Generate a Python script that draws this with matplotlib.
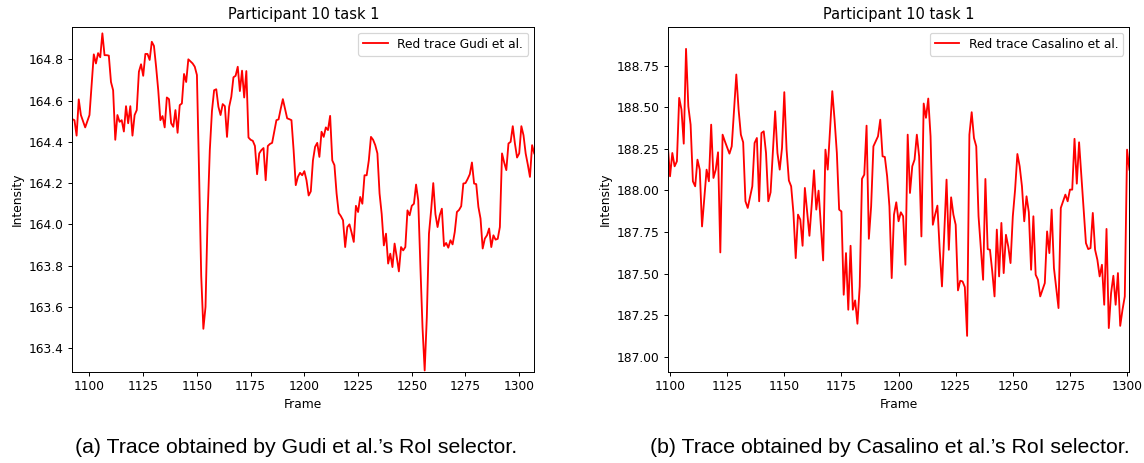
import matplotlib
matplotlib.use("Agg")
import matplotlib.pyplot as plt

# Red channel traces, participant 10, task 1
gudi_frames = list(range(1092, 1308))
gudi_red = [
    164.51, 164.505, 164.43, 164.606, 164.53, 164.50, 164.47, 164.50, 164.53, 164.675,
    164.824, 164.78, 164.83, 164.81, 164.926, 164.82, 164.82, 164.818, 164.69, 164.65,
    164.41, 164.53, 164.497, 164.505, 164.45, 164.573, 164.49, 164.573, 164.43, 164.53,
    164.554, 164.74, 164.776, 164.72, 164.826, 164.826, 164.797, 164.885, 164.865, 164.764,
    164.65, 164.505, 164.525, 164.47, 164.615, 164.607, 164.49, 164.473, 164.554, 164.444,
    164.578, 164.586, 164.729, 164.69, 164.80, 164.79, 164.78, 164.764, 164.724, 164.25,
    163.75, 163.494, 163.60, 164.05, 164.36, 164.55, 164.65, 164.655, 164.57, 164.53,
    164.583, 164.573, 164.424, 164.57, 164.618, 164.713, 164.72, 164.764, 164.646, 164.745,
    164.615, 164.743, 164.421, 164.41, 164.405, 164.38, 164.243, 164.344, 164.36, 164.37,
    164.214, 164.38, 164.39, 164.395, 164.45, 164.505, 164.509, 164.56, 164.607, 164.56,
    164.514, 164.51, 164.505, 164.36, 164.19, 164.23, 164.25, 164.238, 164.258, 164.214,
    164.14, 164.16, 164.31, 164.376, 164.395, 164.327, 164.449, 164.424, 164.47, 164.457,
    164.526, 164.31, 164.287, 164.15, 164.055, 164.04, 164.02, 163.89, 163.987, 164.0,
    163.96, 163.915, 164.09, 164.06, 164.133, 164.10, 164.238, 164.238, 164.31, 164.424,
    164.41, 164.384, 164.344, 164.15, 164.05, 163.898, 163.955, 163.81, 163.858, 163.793,
    163.907, 163.842, 163.772, 163.89, 163.874, 163.89, 164.068, 164.044, 164.09, 164.10,
    164.193, 164.117, 163.80, 163.50, 163.292, 163.55, 163.955, 164.068, 164.2, 164.05,
    163.987, 164.044, 164.076, 163.895, 163.91, 163.887, 163.923, 163.903, 163.963, 164.06,
    164.07, 164.088, 164.198, 164.2, 164.22, 164.243, 164.3, 164.198, 164.195, 164.085,
    164.028, 163.883, 163.931, 163.947, 163.98, 163.89, 163.947, 163.926, 163.93, 163.987,
    164.344, 164.30, 164.263, 164.392, 164.4, 164.476, 164.392, 164.324, 164.344, 164.476,
    164.432, 164.344, 164.29, 164.23, 164.384, 164.344,
]

casalino_frames = [
    1099, 1100, 1101, 1102, 1103, 1104, 1105, 1106, 1107, 1108, 1109, 1110, 1111, 1112,
    1113, 1114, 1116, 1117, 1118, 1119, 1120, 1121, 1122, 1123, 1124, 1126, 1127, 1129,
    1130, 1131, 1132, 1133, 1134, 1136, 1137, 1138, 1139, 1140, 1141, 1142, 1143, 1144,
    1146, 1147, 1148, 1149, 1150, 1151, 1152, 1153, 1154, 1155, 1156, 1157, 1158, 1159,
    1161, 1162, 1163, 1164, 1165, 1167, 1168, 1169, 1171, 1172, 1173, 1174, 1175, 1176,
    1177, 1178, 1179, 1180, 1181, 1182, 1183, 1184, 1185, 1186, 1187, 1188, 1189, 1190,
    1191, 1192, 1193, 1194, 1195, 1196, 1197, 1198, 1199, 1200, 1201, 1202, 1203, 1204,
    1205, 1206, 1207, 1208, 1209, 1210, 1211, 1212, 1213, 1214, 1215, 1216, 1217, 1218,
    1219, 1221, 1222, 1223, 1224, 1225, 1226, 1227, 1228, 1229, 1230, 1231, 1232, 1233,
    1234, 1235, 1237, 1238, 1239, 1240, 1241, 1242, 1243, 1244, 1245, 1246, 1247, 1248,
    1249, 1250, 1251, 1252, 1253, 1254, 1255, 1256, 1257, 1258, 1259, 1260, 1261, 1262,
    1264, 1265, 1266, 1267, 1268, 1270, 1271, 1273, 1274, 1275, 1276, 1277, 1278, 1279,
    1280, 1282, 1283, 1284, 1285, 1286, 1287, 1288, 1289, 1290, 1291, 1292, 1293, 1294,
    1295, 1296, 1297, 1298, 1299, 1300, 1301,
]
casalino_red = [
    188.275, 188.085, 188.225, 188.145, 188.175, 188.556, 188.486, 188.281, 188.850, 188.505,
    188.395, 188.055, 188.025, 188.185, 188.125, 187.784, 188.125, 188.055, 188.395, 188.075,
    188.125, 188.229, 187.628, 188.335, 188.295, 188.221, 188.265, 188.696, 188.486, 188.335,
    188.289, 187.935, 187.895, 188.025, 188.285, 188.315, 187.935, 188.345, 188.355, 188.225,
    187.935, 187.989, 188.475, 188.225, 188.125, 188.255, 188.590, 188.245, 188.060, 188.025,
    187.865, 187.594, 187.855, 187.825, 187.668, 188.015, 187.728, 187.915, 188.121, 187.885,
    187.999, 187.580, 188.245, 188.125, 188.596, 188.425, 188.225, 187.885, 187.874, 187.374,
    187.624, 187.284, 187.668, 187.284, 187.340, 187.200, 187.424, 188.070, 188.095, 188.389,
    187.710, 187.905, 188.265, 188.295, 188.325, 188.425, 188.205, 188.201, 188.085, 187.905,
    187.474, 187.855, 187.929, 187.815, 187.869, 187.845, 187.554, 188.335, 187.985, 188.145,
    188.185, 188.335, 188.205, 187.724, 188.522, 188.436, 188.552, 188.325, 187.794, 187.855,
    187.909, 187.644, 187.424, 188.065, 187.644, 187.959, 187.855, 187.794, 187.400, 187.458,
    187.454, 187.420, 187.127, 188.335, 188.470, 188.315, 188.265, 187.845, 187.464, 188.069,
    187.648, 187.644, 187.514, 187.364, 187.765, 187.484, 187.805, 187.504, 187.734, 187.664,
    187.564, 187.845, 188.005, 188.219, 188.145, 188.025, 187.815, 187.965, 187.870, 187.524,
    187.845, 187.494, 187.464, 187.364, 187.444, 187.754, 187.624, 187.885, 187.534, 187.294,
    187.895, 187.975, 187.935, 188.005, 188.005, 188.310, 188.041, 188.289, 188.085, 187.684,
    187.648, 187.654, 187.865, 187.644, 187.584, 187.484, 187.554, 187.314, 187.769, 187.174,
    187.384, 187.488, 187.314, 187.504, 187.187, 187.284, 187.364, 188.245, 188.125,
]

panels = [
    (gudi_frames, gudi_red, "Red trace Gudi et al.", (163.286, 164.958),
     "(a) Trace obtained by Gudi et al.\u2019s RoI selector.", 0.2587),
    (casalino_frames, casalino_red, "Red trace Casalino et al.", (186.912, 188.983),
     "(b) Trace obtained by Casalino et al.\u2019s RoI selector.", 0.778),
]

fig = plt.figure(figsize=(13.0, 463 / 88), dpi=88)
axes_pos = [[0.0632, 0.1972, 0.4038, 0.7451], [0.5837, 0.1972, 0.4035, 0.7451]]

for pos, (frames, red, label, ylim, caption, cx) in zip(axes_pos, panels):
    ax = fig.add_axes(pos)
    ax.plot(frames, red, color="red", label=label)
    ax.set_xlim(frames[0], frames[-1])
    ax.set_ylim(*ylim)
    ax.set_xlabel("Frame")
    ax.set_ylabel("Intensity")
    ax.set_title("Participant 10 task 1")
    ax.legend(loc="upper right")
    fig.text(cx, 0.034, caption, ha="center", va="center",
             family="Liberation Sans", fontsize=17.4)

fig.savefig("out.png", dpi=88)
